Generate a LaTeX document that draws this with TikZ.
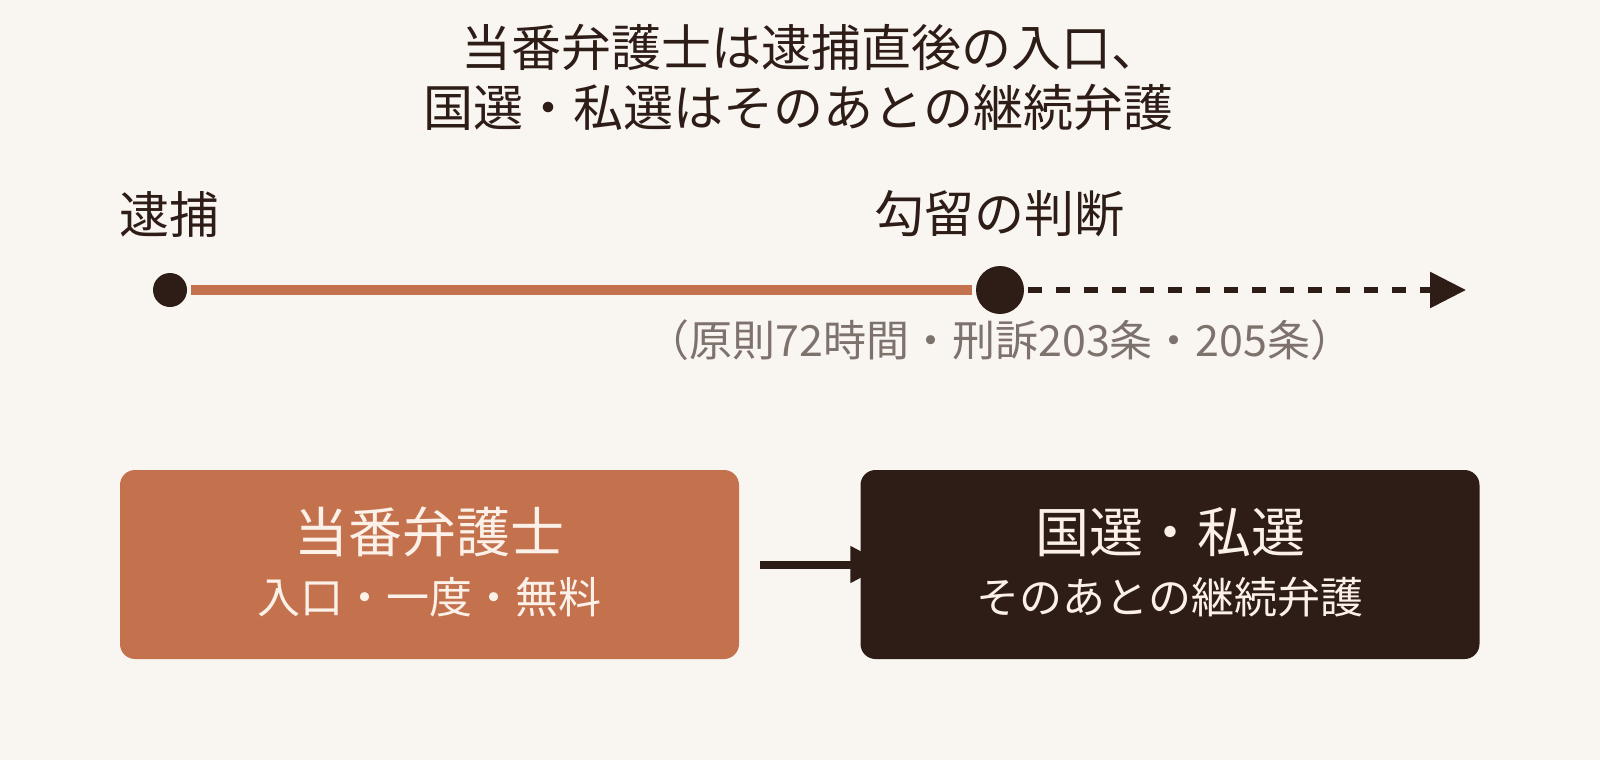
\documentclass[tikz,border=0pt]{standalone}
\usepackage{fontspec}
\setmainfont{Noto Sans CJK JP}
\usepackage{tikz}
\usetikzlibrary{arrows.meta, calc, backgrounds}

\definecolor{paper}{HTML}{F9F6F2}
\definecolor{ink}{HTML}{2E1C16}
\definecolor{clay}{HTML}{C4714D}
\definecolor{cream}{HTML}{FBF1E8}
\definecolor{mute}{HTML}{7E726D}

\begin{document}
\begin{tikzpicture}[x=1pt, y=-1pt,
        dot/.style={circle, fill=ink, inner sep=0pt, outer sep=4pt},
        lbl/.style={text=ink, inner sep=0pt, font=\fontsize{50}{60}\selectfont},
        card/.style={rounded corners=15pt, minimum width=619pt, minimum height=189pt, inner sep=0pt},
        cardhead/.style={text=cream, inner sep=0pt, font=\fontsize{54}{60}\selectfont},
        cardsub/.style={text=cream, inner sep=0pt, font=\fontsize{43}{50}\selectfont}]
    \useasboundingbox (0,0) rectangle (1600,760);

    % title
    \node[lbl] (title-a) at (811,47) {当番弁護士は逮捕直後の入口、};
    \node[lbl] (title-b) at (798.5,107) {国選・私選はそのあとの継続弁護};

    % timeline
    \node[dot, minimum size=34pt] (arrest) at (170,290) {};
    \node[dot, minimum size=48pt] (detain) at (1000,290) {};
    \coordinate (tl-end) at (1466,290);

    \node[lbl] (arrest-lbl) at (169,214) {逮捕};
    \node[lbl] (detain-lbl) at (999,214) {勾留の判断};

    \draw[clay, line width=10pt] (arrest) -- (detain);
    \draw[ink, line width=6pt, dash pattern=on 14pt off 14pt, -{Triangle[length=36pt, width=35pt]}] (detain) -- (tl-end);

    \node[text=mute, inner sep=0pt, font=\fontsize{43}{50}\selectfont] (rule) at (1000,340) {（原則72時間・刑訴203条・205条）};

    % the two stages
    \node[card, fill=clay] (duty) at (429.5,564.5) {};
    \node[card, fill=ink] (counsel) at (1170,564.5) {};

    \node[cardhead] (duty-head) at ($(duty)+(0,-32.5)$) {当番弁護士};
    \node[cardsub] (duty-sub) at ($(duty)+(0,32.5)$) {入口・一度・無料};
    \node[cardhead] (counsel-head) at ($(counsel)+(0,-32.5)$) {国選・私選};
    \node[cardsub] (counsel-sub) at ($(counsel)+(0,32.5)$) {そのあとの継続弁護};

    \begin{scope}[on background layer]
        \fill[paper] (0,0) rectangle (1600,760);
        \draw[ink, line width=8pt, -{Triangle[length=36pt, width=35pt]}] ([xshift=21pt]duty.east) -- ([xshift=26pt]counsel.west);
    \end{scope}
\end{tikzpicture}
\end{document}
